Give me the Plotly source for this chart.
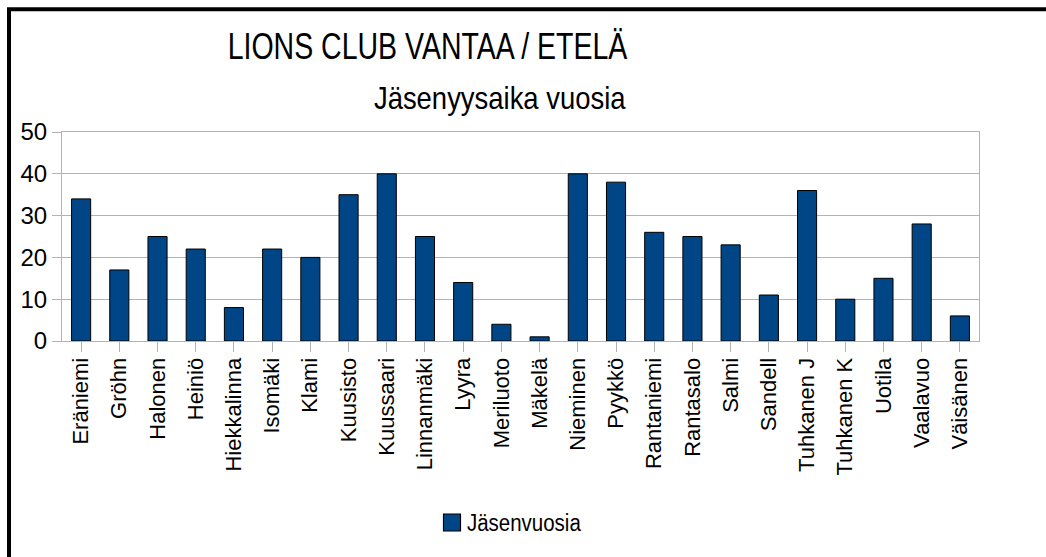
import plotly.graph_objects as go

names = ["Eräniemi", "Gröhn", "Halonen", "Heiniö", "Hiekkalinna", "Isomäki", "Klami",
         "Kuusisto", "Kuussaari", "Linnanmäki", "Lyyra", "Meriluoto", "Mäkelä", "Nieminen",
         "Pyykkö", "Rantaniemi", "Rantasalo", "Salmi", "Sandell", "Tuhkanen J", "Tuhkanen K",
         "Uotila", "Vaalavuo", "Väisänen"]
years = [34, 17, 25, 22, 8, 22, 20, 35, 40, 25, 14, 4, 1, 40, 38, 26, 25, 23, 11, 36, 10,
         15, 28, 6]
series_name = "Jäsenvuosia"
title_text = "LIONS CLUB VANTAA / ETELÄ"
subtitle_text = "Jäsenyysaika vuosia"
y_ticks = [0, 10, 20, 30, 40, 50]

W, H = 1046, 557
L, R, T, B = 62, 979, 131.5, 341
pw, ph = R - L, B - T

def px(x):
    return (x - L) / pw

def py(y):
    return (B - y) / ph

FONT = "Liberation Sans, Arial, sans-serif"
GRID = "#b3b3b3"

fig = go.Figure(go.Bar(
    x=names, y=years, name=series_name,
    marker=dict(color="#004586", line=dict(color="#000000", width=1)),
    showlegend=True,
))

fig.update_layout(
    width=W, height=H,
    margin=dict(l=L, r=W - R, t=T, b=H - B, autoexpand=False),
    paper_bgcolor="white", plot_bgcolor="white",
    font=dict(family=FONT, color="black", size=22),
    bargap=0.5,
    xaxis=dict(
        type="category", tickangle=-90, tickfont=dict(size=22),
        showline=True, linecolor=GRID, linewidth=1, mirror=True,
        ticks="outside", ticklen=10, tickcolor=GRID,
        showgrid=False, ticklabelstandoff=-3,
    ),
    yaxis=dict(
        range=[0, 50], tickvals=y_ticks, tickfont=dict(size=24),
        showline=True, linecolor=GRID, linewidth=1, mirror=True,
        ticks="outside", ticklen=9, tickcolor=GRID,
        showgrid=True, gridcolor=GRID, gridwidth=1, zeroline=False,
    ),
    legend=dict(
        orientation="h", x=px(427), xanchor="left", y=py(523), yanchor="middle",
        font=dict(size=23), bgcolor="rgba(0,0,0,0)",
    ),
    annotations=[
        dict(text=title_text, x=px(427), y=py(46), xref="paper", yref="paper",
             xanchor="center", yanchor="middle", showarrow=False,
             font=dict(size=37, family=FONT, color="black")),
        dict(text=subtitle_text, x=px(500), y=py(97), xref="paper", yref="paper",
             xanchor="center", yanchor="middle", showarrow=False,
             font=dict(size=32, family=FONT, color="black")),
    ],
    shapes=[
        dict(type="rect", xref="paper", yref="paper",
             x0=px(9), x1=px(1070), y0=py(8.5), y1=py(580),
             line=dict(color="black", width=4), fillcolor="rgba(0,0,0,0)", layer="above"),
    ],
)

# The reference's horizontal texts are condensed: squeeze them horizontally
# (they stay real SVG text), and enlarge the legend swatch.
post = """
document.body.style.margin='0px';
var gd = document.getElementById('{plot_id}');
function squeeze(t, w, anchor){
  var bb = t.getBBox();
  if (!bb.width) return;
  var sx = w / bb.width;
  var cx = anchor === 'left' ? bb.x : bb.x + bb.width / 2;
  t.setAttribute('transform', 'translate(' + cx + ',0) scale(' + sx + ',1) translate(' + (-cx) + ',0)');
}
var widths = [400, 252];
gd.querySelectorAll('.annotation-text').forEach(function(t, i){
  if (i < widths.length) squeeze(t, widths[i], 'center');
});
gd.querySelectorAll('.legendtext').forEach(function(t){ squeeze(t, 114, 'left'); });
gd.querySelectorAll('.legendpoints path').forEach(function(p){
  p.setAttribute('transform', 'translate(25,0) scale(1.42)');
  p.style.strokeWidth = '0.8px';
});
"""

fig.write_html("out.html", post_script=post, config={"displayModeBar": False})
